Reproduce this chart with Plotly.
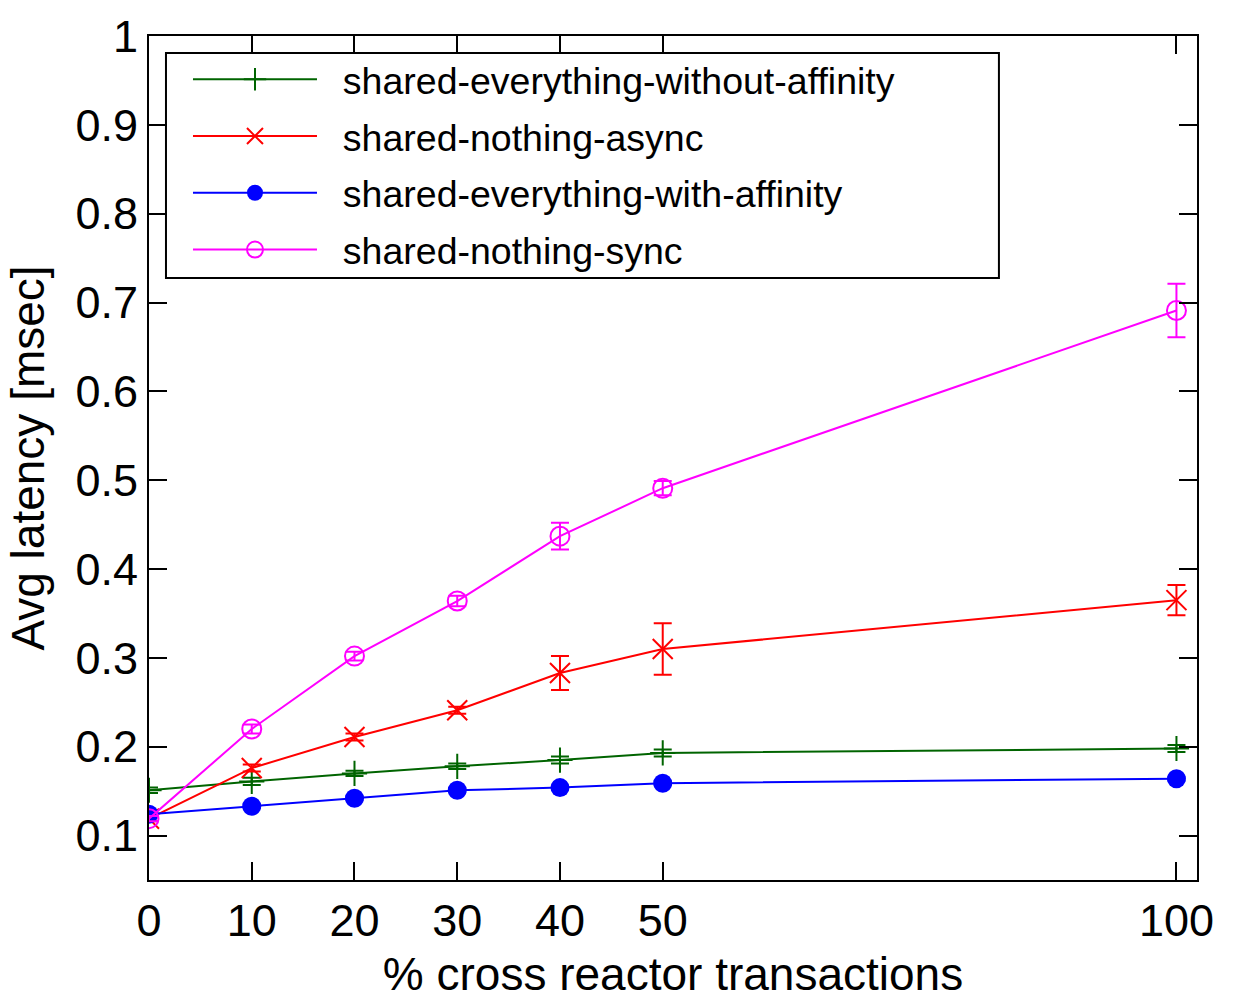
import plotly.graph_objects as go

x_vals = [0, 10, 20, 30, 40, 50, 100]

se_without_aff = [0.151, 0.161, 0.170, 0.178, 0.185, 0.193, 0.198]
se_without_aff_err = [0.003, 0.004, 0.003, 0.003, 0.004, 0.004, 0.004]

sn_async = [0.119, 0.176, 0.211, 0.241, 0.283, 0.310, 0.365]
sn_async_err = [0.003, 0.004, 0.004, 0.004, 0.019, 0.029, 0.017]

se_with_aff = [0.124, 0.133, 0.142, 0.151, 0.154, 0.159, 0.164]
se_with_aff_err = [0.002, 0.002, 0.002, 0.002, 0.002, 0.002, 0.002]

sn_sync = [0.119, 0.220, 0.302, 0.364, 0.437, 0.491, 0.691]
sn_sync_err = [0.003, 0.005, 0.005, 0.006, 0.015, 0.008, 0.030]

x_ticks = [0, 10, 20, 30, 40, 50, 100]
y_ticks = [0.1, 0.2, 0.3, 0.4, 0.5, 0.6, 0.7, 0.8, 0.9, 1.0]
y_ticktext = ["0.1", "0.2", "0.3", "0.4", "0.5", "0.6", "0.7", "0.8", "0.9", "1"]

series_names = [
    "shared-everything-without-affinity",
    "shared-nothing-async",
    "shared-everything-with-affinity",
    "shared-nothing-sync",
]

styles = [
    ("#006400", dict(symbol="cross-thin-open", size=18, line=dict(width=2, color="#006400"))),
    ("#ff0000", dict(symbol="x-thin-open", size=20, line=dict(width=2, color="#ff0000"))),
    ("#0000ff", dict(symbol="circle", size=19, color="#0000ff", line=dict(width=0))),
    ("#ff00ff", dict(symbol="circle-open", size=19, line=dict(width=2, color="#ff00ff"))),
]
values = [se_without_aff, sn_async, se_with_aff, sn_sync]
errors = [se_without_aff_err, sn_async_err, se_with_aff_err, sn_sync_err]

FONT = "Liberation Sans, Arial, sans-serif"
PAD = "\u00a0\u00a0"

fig = go.Figure()
for i, name in enumerate(series_names):
    color, marker = styles[i]
    fig.add_trace(go.Scatter(
        x=x_vals, y=values[i], name=PAD + name, mode="lines+markers",
        legendgroup=f"g{i}",
        line=dict(color=color, width=2),
        marker=marker,
        error_y=dict(type="data", array=errors[i], visible=True, color=color,
                     thickness=2, width=9),
    ))

axis_common = dict(
    showgrid=False, zeroline=False, showline=True, linecolor="black", linewidth=2,
    mirror="allticks", ticks="inside", ticklen=18, tickwidth=2, tickcolor="black",
    tickfont=dict(family=FONT, size=45, color="black"),
    title_font=dict(family=FONT, size=46, color="black"),
    automargin=False,
)

fig.update_layout(
    width=1250, height=1000,
    margin=dict(l=149, r=53, t=36, b=120),
    paper_bgcolor="white", plot_bgcolor="white",
    xaxis=dict(range=[0, 102], tickvals=x_ticks, ticktext=[str(v) for v in x_ticks],
               title=dict(text="% cross reactor transactions", standoff=16), **axis_common),
    yaxis=dict(range=[0.05, 1.0], tickvals=y_ticks, ticktext=y_ticktext,
               title=dict(text="Avg latency [msec]", standoff=16), **axis_common),
    legend=dict(
        x=0.0372, y=0.9853, xanchor="left", yanchor="top",
        bgcolor="rgba(0,0,0,0)", borderwidth=0,
        font=dict(family=FONT, size=37.5, color="black"),
        itemwidth=124, tracegroupgap=5, traceorder="grouped",
    ),
    shapes=[dict(type="rect", xref="paper", yref="paper",
                 x0=0.0162, x1=0.811, y0=0.7133, y1=0.9799,
                 line=dict(color="black", width=2), fillcolor="white", layer="below")],
    showlegend=True,
)

fig.write_html("out.html")
